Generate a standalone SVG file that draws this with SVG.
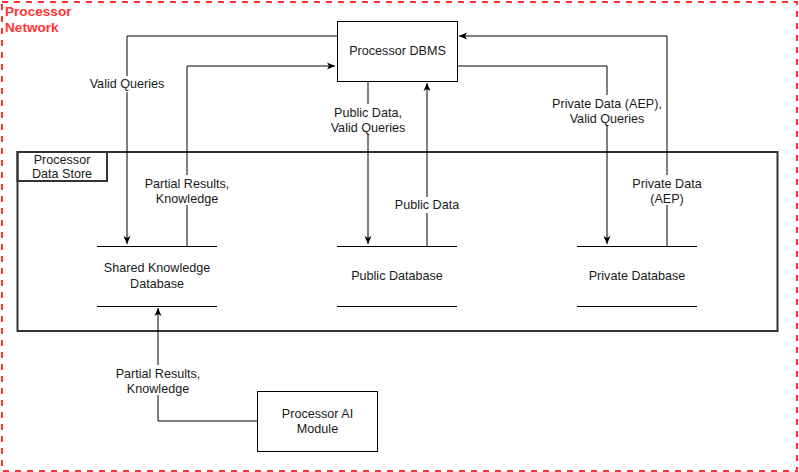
<svg xmlns="http://www.w3.org/2000/svg" width="799" height="472" viewBox="0 0 799 472">
<defs>
<marker id="arr" markerWidth="10" markerHeight="10" refX="9" refY="5" orient="auto" markerUnits="userSpaceOnUse">
<path d="M1,1.5 L9,5 L1,8.5 L3,5 Z" fill="#000"/>
</marker>
</defs>
<style>
text{font-family:"Liberation Sans",Arial,sans-serif;font-size:12.6px;fill:#1a1a1a;text-anchor:middle}
.box{fill:#fff;stroke:#000;stroke-width:1}
.db{stroke:#000;stroke-width:1}
.conn{fill:none;stroke:#000;stroke-width:1}
.lbl{fill:#fff}
.net{font-size:13.6px;font-weight:bold;fill:#ff3333;text-anchor:start}
</style>
<rect x="0" y="0" width="799" height="472" fill="#fff"/>
<g id="processor-network">
<rect x="2" y="2" width="795" height="469" fill="none" stroke="#ff3333" stroke-width="2" stroke-dasharray="6 6"/>
<text class="net" x="5" y="16">Processor</text>
<text class="net" x="5" y="32">Network</text>
</g>
<g id="data-store">
<rect x="17.5" y="152" width="760" height="179" fill="none" stroke="#333" stroke-width="2"/>
<rect x="17.5" y="152" width="89.5" height="29" fill="none" stroke="#333" stroke-width="2"/>
<text x="62" y="164">Processor</text>
<text x="62" y="178">Data Store</text>
</g>
<g id="connectors">
<path class="conn" d="M337,36 H127 V244" marker-end="url(#arr)"/>
<path class="conn" d="M187,246 V66 H335" marker-end="url(#arr)"/>
<path class="conn" d="M368,81 V244" marker-end="url(#arr)"/>
<path class="conn" d="M427,246 V83" marker-end="url(#arr)"/>
<path class="conn" d="M457,66 H607 V244" marker-end="url(#arr)"/>
<path class="conn" d="M667,246 V36 H459" marker-end="url(#arr)"/>
<path class="conn" d="M257,421 H158 V308" marker-end="url(#arr)"/>
<rect class="lbl" x="86" y="76" width="82" height="16"/>
<text x="127" y="88">Valid Queries</text>
<rect class="lbl" x="141" y="175" width="92" height="30"/>
<text x="187" y="188">Partial Results,</text>
<text x="187" y="203">Knowledge</text>
<rect class="lbl" x="326" y="104" width="84" height="30"/>
<text x="368" y="117">Public Data,</text>
<text x="368" y="132">Valid Queries</text>
<rect class="lbl" x="391" y="197" width="72" height="16"/>
<text x="427" y="209">Public Data</text>
<rect class="lbl" x="548" y="95" width="118" height="30"/>
<text x="607" y="108">Private Data (AEP),</text>
<text x="607" y="123">Valid Queries</text>
<rect class="lbl" x="628" y="175" width="78" height="30"/>
<text x="667" y="188">Private Data</text>
<text x="667" y="203">(AEP)</text>
<rect class="lbl" x="112" y="365" width="92" height="30"/>
<text x="158" y="378">Partial Results,</text>
<text x="158" y="393">Knowledge</text>
</g>
<g id="processor-dbms">
<rect class="box" x="337.5" y="21.5" width="120" height="60"/>
<text x="397.5" y="55">Processor DBMS</text>
</g>
<g id="shared-knowledge-db">
<line class="db" x1="97" y1="246.5" x2="217" y2="246.5"/>
<line class="db" x1="97" y1="306.5" x2="217" y2="306.5"/>
<text x="157" y="272">Shared Knowledge</text>
<text x="157" y="288">Database</text>
</g>
<g id="public-db">
<line class="db" x1="337" y1="246.5" x2="457" y2="246.5"/>
<line class="db" x1="337" y1="306.5" x2="457" y2="306.5"/>
<text x="397" y="280">Public Database</text>
</g>
<g id="private-db">
<line class="db" x1="577" y1="246.5" x2="697" y2="246.5"/>
<line class="db" x1="577" y1="306.5" x2="697" y2="306.5"/>
<text x="637" y="280">Private Database</text>
</g>
<g id="processor-ai">
<rect class="box" x="257.5" y="391.5" width="120" height="60"/>
<text x="317.5" y="418">Processor AI</text>
<text x="317.5" y="433">Module</text>
</g>
</svg>
